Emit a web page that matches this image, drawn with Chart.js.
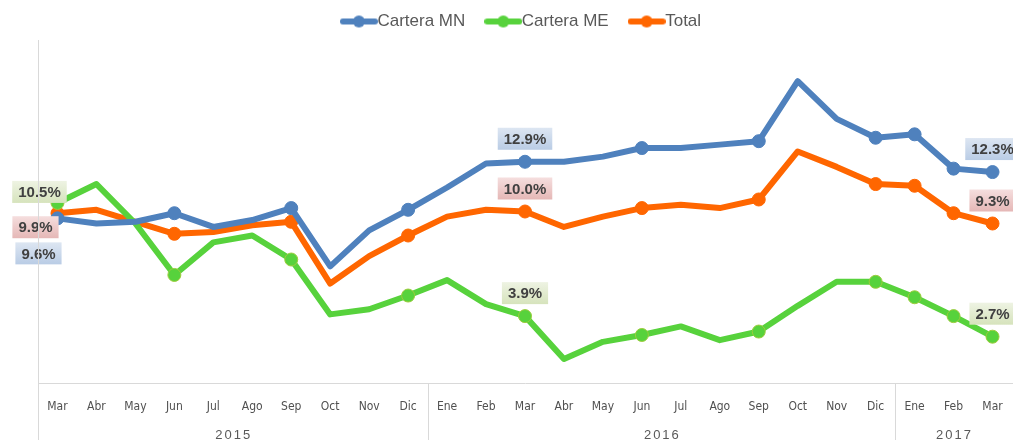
<!DOCTYPE html>
<html>
<head>
<meta charset="utf-8">
<script src="https://cdn.jsdelivr.net/npm/chart.js@4.4.0/dist/chart.umd.min.js"></script>
<style>
  html, body { margin: 0; padding: 0; background: #ffffff; }
  #wrap { width: 1013px; height: 440px; position: relative; }
</style>
</head>
<body>
<div id="wrap"><canvas id="c" width="1013" height="440"></canvas></div>
<script>
// ---------- DATA ----------
const months = ['Mar','Abr','May','Jun','Jul','Ago','Sep','Oct','Nov','Dic','Ene','Feb',
                'Mar','Abr','May','Jun','Jul','Ago','Sep','Oct','Nov','Dic','Ene','Feb','Mar'];
const years = ['2015', '2016', '2017'];
const monthsPerYear = [10, 12, 3];

const carteraMN = [9.6, 9.3, 9.4, 9.9, 9.1, 9.5, 10.2, 6.8, 8.9, 10.1, 11.4, 12.8,
                   12.9, 12.9, 13.2, 13.7, 13.7, 13.9, 14.1, 17.6, 15.4, 14.3, 14.5, 12.5, 12.3];
const carteraME = [10.5, 11.6, 9.3, 6.3, 8.2, 8.6, 7.2, 4.0, 4.3, 5.1, 6.0, 4.6,
                   3.9, 1.4, 2.4, 2.8, 3.3, 2.5, 3.0, 4.5, 5.9, 5.9, 5.0, 3.9, 2.7];
const total     = [9.9, 10.1, 9.4, 8.7, 8.8, 9.2, 9.4, 5.8, 7.4, 8.6, 9.7, 10.1,
                   10.0, 9.1, 9.7, 10.2, 10.4, 10.2, 10.7, 13.5, 12.6, 11.6, 11.5, 9.9, 9.3];

const markerIndex = [0, 3, 6, 9, 12, 15, 18, 21, 22, 23, 24];
const labelIndex = [0, 12, 24];

// ---------- STYLE ----------
const BLUE = '#4f81bd', GREEN = '#57d23c', ORANGE = '#ff6600';
const radii = months.map((m, i) => markerIndex.includes(i) ? 6.5 : 0);

function legendIcon(color) {
  const cv = document.createElement('canvas');
  cv.width = 38; cv.height = 14;
  const g = cv.getContext('2d');
  g.strokeStyle = color; g.lineWidth = 6; g.lineCap = 'round';
  g.beginPath(); g.moveTo(3, 7); g.lineTo(35, 7); g.stroke();
  g.fillStyle = color;
  g.beginPath(); g.arc(19, 7, 6, 0, Math.PI * 2); g.fill();
  return cv;
}

const labelStyles = [
  { top: '#dde6f2', bottom: '#b9cce5', first: { dx: -19, dy: 35 } },   // MN
  { top: '#eef3e3', bottom: '#d6e3bc', first: { dx: -18, dy: -11 } },  // ME
  { top: '#f5dede', bottom: '#e5b7b6', first: { dx: -22, dy: 14 } }    // Total
];

const labelPlugin = {
  id: 'valueLabels',
  afterDatasetsDraw(chart) {
    const ctx = chart.ctx;
    ctx.save();
    ctx.font = 'bold 15px "Liberation Sans", Arial, sans-serif';
    ctx.textAlign = 'center';
    ctx.textBaseline = 'middle';
    chart.data.datasets.forEach((ds, di) => {
      const meta = chart.getDatasetMeta(di);
      const st = labelStyles[di];
      labelIndex.forEach(idx => {
        const el = meta.data[idx];
        const txt = ds.data[idx].toFixed(1) + '%';
        let cx = el.x, cy = el.y - 23;
        if (idx === 0) { cx = el.x + st.first.dx; cy = el.y + st.first.dy; }
        const w = ctx.measureText(txt).width + 12, h = 22;
        const grad = ctx.createLinearGradient(0, cy - h / 2, 0, cy + h / 2);
        grad.addColorStop(0, st.top); grad.addColorStop(1, st.bottom);
        ctx.fillStyle = grad;
        ctx.fillRect(cx - w / 2, cy - h / 2, w, h);
        ctx.fillStyle = '#404040';
        ctx.fillText(txt, cx, cy + 1);
      });
    });
    ctx.restore();
  }
};

const yearPlugin = {
  id: 'yearAxis',
  afterDraw(chart) {
    const ctx = chart.ctx;
    const xs = chart.scales.x;
    const area = chart.chartArea;
    ctx.save();
    ctx.strokeStyle = '#d9d9d9';
    ctx.lineWidth = 1;
    let start = 0;
    const bounds = [area.left];
    monthsPerYear.forEach((n) => {
      const end = start + n - 1;
      const right = (end < months.length - 1)
        ? (xs.getPixelForValue(end) + xs.getPixelForValue(end + 1)) / 2
        : area.right;
      bounds.push(right);
      start += n;
    });
    bounds.slice(1, -1).forEach(b => {
      ctx.beginPath(); ctx.moveTo(Math.round(b) + 0.5, area.bottom); ctx.lineTo(Math.round(b) + 0.5, 440); ctx.stroke();
    });
    ctx.beginPath(); ctx.moveTo(Math.round(area.left) + 0.5, area.top); ctx.lineTo(Math.round(area.left) + 0.5, 440); ctx.stroke();
    ctx.fillStyle = '#595959';
    ctx.font = '13px "Liberation Sans", Arial, sans-serif';
    if ('letterSpacing' in ctx) ctx.letterSpacing = '2px';
    ctx.textAlign = 'center';
    ctx.textBaseline = 'middle';
    years.forEach((y, k) => {
      ctx.fillText(y, (bounds[k] + bounds[k + 1]) / 2 + 1, 435);
    });
    ctx.restore();
  }
};

const commonDs = { borderWidth: 6, tension: 0, pointRadius: radii, pointHoverRadius: radii,
                   pointBorderWidth: 1, borderJoinStyle: 'round', borderCapStyle: 'round' };

new Chart(document.getElementById('c'), {
  type: 'line',
  data: {
    labels: months,
    datasets: [
      Object.assign({ label: 'Cartera MN', data: carteraMN, borderColor: BLUE, backgroundColor: BLUE,
        pointBackgroundColor: BLUE, pointBorderColor: BLUE }, commonDs),
      Object.assign({ label: 'Cartera ME', data: carteraME, borderColor: GREEN, backgroundColor: GREEN,
        pointBackgroundColor: GREEN, pointBorderColor: '#9ccc3c' }, commonDs),
      Object.assign({ label: 'Total', data: total, borderColor: ORANGE, backgroundColor: ORANGE,
        pointBackgroundColor: ORANGE, pointBorderColor: ORANGE }, commonDs)
    ]
  },
  options: {
    responsive: false,
    animation: false,
    events: [],
    layout: { autoPadding: false, padding: { left: 38, right: 1, top: -15, bottom: 9 } },
    plugins: {
      tooltip: { enabled: false },
      legend: {
        position: 'top',
        labels: {
          usePointStyle: true,
          pointStyleWidth: 20,
          boxHeight: 14,
          padding: 28,
          color: '#595959',
          font: { family: '"Liberation Sans", Arial, sans-serif', size: 17 },
          generateLabels(chart) {
            return chart.data.datasets.map((ds, i) => ({
              text: ds.label,
              pointStyle: legendIcon(ds.borderColor),
              fillStyle: ds.borderColor,
              strokeStyle: ds.borderColor,
              lineWidth: 0,
              hidden: false,
              datasetIndex: i,
              fontColor: '#595959'
            }));
          }
        }
      }
    },
    scales: {
      x: {
        offset: true,
        grid: { display: false, drawTicks: false },
        border: { display: true, color: '#d9d9d9', width: 1 },
        ticks: {
          color: '#505050',
          padding: 0,
          maxRotation: 0,
          autoSkip: false,
          font: { family: '"DejaVu Sans Condensed", "DejaVu Sans", sans-serif', size: 12, lineHeight: '48px' }
        }
      },
      y: {
        display: false,
        min: 0,
        max: 20
      }
    }
  },
  plugins: [labelPlugin, yearPlugin]
});
</script>
</body>
</html>
